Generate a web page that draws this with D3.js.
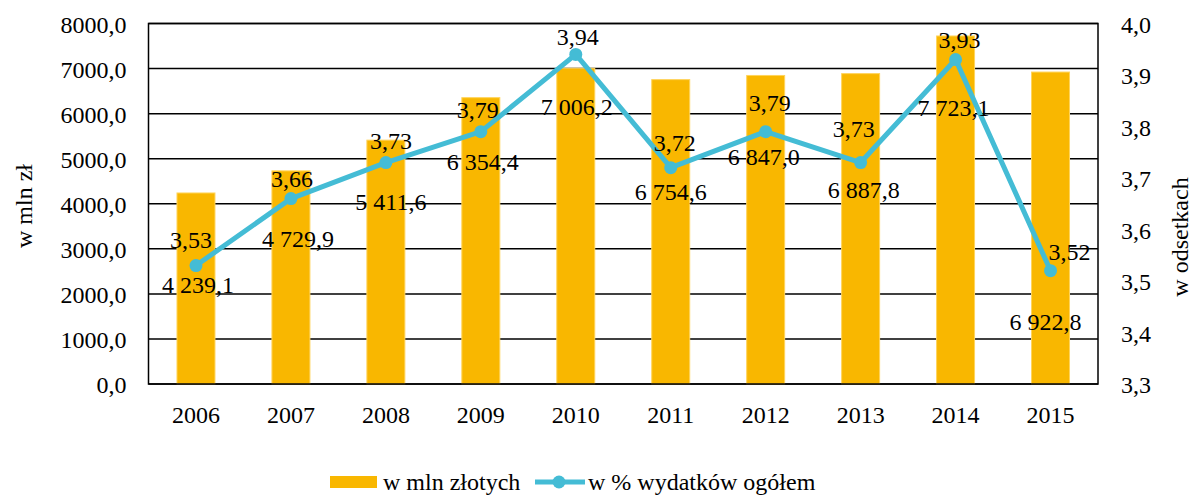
<!DOCTYPE html>
<html>
<head>
    <meta charset="utf-8">
    <style>
        body {
            margin: 0;
            background: white;
        }

        svg text {
            font-family: "Liberation Serif", "Tinos", "DejaVu Serif", serif;
            font-size: 24px;
            fill: #000;
        }

        .axis .domain {
            display: none;
        }

        .grid line {
            stroke: #000;
            stroke-width: 1.5;
        }
    </style>
</head>

<body>
    <svg width="1193" height="495"></svg>

<script src="https://d3js.org/d3.v7.min.js"></script>

<script>
    // data
    let years = ["2006", "2007", "2008", "2009", "2010", "2011", "2012", "2013", "2014", "2015"]
    let mlnZl = [4239.1, 4729.9, 5411.6, 6354.4, 7006.2, 6754.6, 6847.0, 6887.8, 7723.1, 6922.8]
    let pctTotal = [3.53, 3.66, 3.73, 3.79, 3.94, 3.72, 3.79, 3.73, 3.93, 3.52]
    let leftTicks = [0, 1000, 2000, 3000, 4000, 5000, 6000, 7000, 8000]
    let rightTicks = [3.3, 3.4, 3.5, 3.6, 3.7, 3.8, 3.9, 4.0]

    // hand placed label offsets (px, relative to the line marker), like the original
    let pctLabelOffset = [[-5, -18], [1, -12], [5, -14], [-3, -14], [2, -9], [4, -17], [4, -21], [-7, -26], [4, -12], [19, -11]]
    let mlnLabelOffset = [[2, 27], [7, 48], [5, 47], [2, 38], [1, 61], [0, 32], [-2, 33], [3, 35], [-2, 56], [-5, 59]]

    let barColor = "#F9B700"
    let lineColor = "#44BCD5"
    let serif = '"Liberation Serif", "Tinos", "DejaVu Serif", serif'

    let svg = d3.select("svg")
    let margin = { top: 23.5, right: 95, bottom: 111, left: 148.5 }
    let width = 1193
    let height = 495

    let pl = d3.formatLocale({ decimal: ",", thousands: " ", grouping: [3], currency: ["", " zł"] })
    let fmtMln = pl.format(",.1f")
    let fmtTick = pl.format(".1f")
    let fmtPct = pl.format(".2f")

    let x = d3.scaleBand()
        .domain(years)
        .range([margin.left, width - margin.right])
        .paddingInner(0.6)
        .paddingOuter(0.3)

    let yL = d3.scaleLinear()
        .domain([0, 8000])
        .range([height - margin.bottom, margin.top])

    let yR = d3.scaleLinear()
        .domain([3.3, 4.0])
        .range([height - margin.bottom, margin.top])

    let cx = d => x(d) + x.bandwidth() / 2

    // gridlines
    svg.append("g")
        .attr("class", "grid")
        .selectAll("line")
        .data(leftTicks)
        .join("line")
        .attr("x1", margin.left)
        .attr("x2", width - margin.right)
        .attr("y1", d => yL(d))
        .attr("y2", d => yL(d))

    // bars
    svg.append("g")
        .selectAll("rect")
        .data(years)
        .join("rect")
        .attr("x", d => x(d))
        .attr("width", x.bandwidth())
        .attr("y", (d, i) => yL(mlnZl[i]))
        .attr("height", (d, i) => yL(0) - yL(mlnZl[i]))
        .attr("fill", barColor)
        .attr("stroke", "#FFD45C")
        .attr("stroke-width", 1)

    // frame
    svg.append("rect")
        .attr("x", margin.left)
        .attr("y", margin.top)
        .attr("width", width - margin.right - margin.left)
        .attr("height", yL(0) - margin.top)
        .attr("fill", "none")
        .attr("stroke", "#000")
        .attr("stroke-width", 1.5)

    // axes
    svg.append("g")
        .attr("class", "axis")
        .attr("transform", `translate(${margin.left},0)`)
        .call(d3.axisLeft(yL).tickValues(leftTicks).tickSize(0).tickPadding(22).tickFormat(fmtTick))
        .attr("font-family", serif)
        .attr("font-size", 24)
        .selectAll("text").attr("dy", "0.36em")

    svg.append("g")
        .attr("class", "axis")
        .attr("transform", `translate(${width - margin.right},0)`)
        .call(d3.axisRight(yR).tickValues(rightTicks).tickSize(0).tickPadding(23).tickFormat(fmtTick))
        .attr("font-family", serif)
        .attr("font-size", 24)
        .selectAll("text").attr("dy", "0.36em")

    svg.append("g")
        .attr("class", "axis")
        .attr("transform", `translate(0,${yL(0)})`)
        .call(d3.axisBottom(x).tickSize(0).tickPadding(22))
        .attr("font-family", serif)
        .attr("font-size", 24)
        .selectAll("text").attr("dy", "0.71em")

    // axis titles
    svg.append("text")
        .attr("transform", "translate(32,206) rotate(-90)")
        .attr("text-anchor", "middle")
        .text("w mln zł")

    svg.append("text")
        .attr("transform", "translate(1188,237) rotate(-90)")
        .attr("text-anchor", "middle")
        .text("w odsetkach")

    // line
    let line = d3.line()
        .x((d, i) => cx(years[i]))
        .y(d => yR(d))

    svg.append("path")
        .datum(pctTotal)
        .attr("d", line)
        .attr("fill", "none")
        .attr("stroke", lineColor)
        .attr("stroke-width", 5)
        .attr("stroke-linejoin", "round")

    svg.append("g")
        .selectAll("circle")
        .data(pctTotal)
        .join("circle")
        .attr("cx", (d, i) => cx(years[i]))
        .attr("cy", d => yR(d))
        .attr("r", 6.5)
        .attr("fill", lineColor)

    // data labels
    svg.append("g")
        .selectAll("text")
        .data(pctTotal)
        .join("text")
        .attr("text-anchor", "middle")
        .attr("x", (d, i) => cx(years[i]) + pctLabelOffset[i][0])
        .attr("y", (d, i) => yR(d) + pctLabelOffset[i][1])
        .text(d => fmtPct(d))

    svg.append("g")
        .selectAll("text")
        .data(mlnZl)
        .join("text")
        .attr("text-anchor", "middle")
        .attr("x", (d, i) => cx(years[i]) + mlnLabelOffset[i][0])
        .attr("y", (d, i) => yR(pctTotal[i]) + mlnLabelOffset[i][1])
        .text(d => fmtMln(d))

    // legend
    let legend = svg.append("g").attr("transform", "translate(330,482)")

    legend.append("rect")
        .attr("x", 0)
        .attr("y", -6)
        .attr("width", 47)
        .attr("height", 12)
        .attr("fill", barColor)

    legend.append("text")
        .attr("x", 53)
        .attr("y", 8)
        .text("w mln złotych")

    legend.append("line")
        .attr("x1", 205)
        .attr("x2", 255)
        .attr("stroke", lineColor)
        .attr("stroke-width", 5)

    legend.append("circle")
        .attr("cx", 229)
        .attr("r", 6.5)
        .attr("fill", lineColor)

    legend.append("text")
        .attr("x", 258)
        .attr("y", 8)
        .text("w % wydatków ogółem")
</script>
</body>
</html>
